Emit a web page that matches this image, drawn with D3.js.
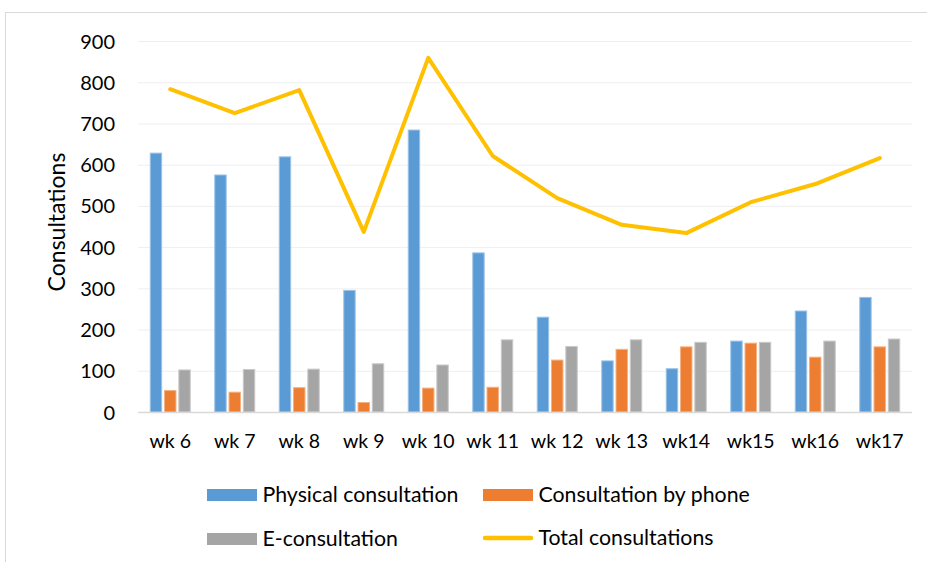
<!DOCTYPE html>
<html><head><meta charset="utf-8">
<script src="https://cdn.jsdelivr.net/npm/d3@7"></script>
<style>body{margin:0;background:#fff}svg{display:block}</style>
</head><body>
<svg id="c" width="927" height="562"></svg>
<script>
const weeks = ["wk 6","wk 7","wk 8","wk 9","wk 10","wk 11","wk 12","wk 13","wk14","wk15","wk16","wk17"];
const physical = [628,575,619,295,684,386,230,124,105,172,245,278];
const phone = [52,48,59,23,58,60,126,152,158,167,133,158];
const econs = [102,103,104,117,114,175,159,175,169,169,172,177];
const total = [783,725,781,437,859,621,519,454,434,509,553,616];
const yTicks = [0,100,200,300,400,500,600,700,800,900];
const seriesNames = ["Physical consultation","Consultation by phone","E-consultation","Total consultations"];
const colors = ["#5B9BD5","#ED7D31","#A5A5A5","#FFC000"];
const strokeCol = ["#9DC3E6","#F4B183","#C9C9C9"];

const svg = d3.select("#c");
const font = "Lato, 'Open Sans', sans-serif";
svg.append("rect").attr("x",5.5).attr("y",12.5).attr("width",960).attr("height",600)
  .attr("fill","#fff").attr("stroke","#d9d9d9");

const pL=138,pR=912,pT=41,pB=412;
const x = d3.scaleBand().domain(weeks).range([pL,pR]).paddingInner(0).paddingOuter(0);
const y = d3.scaleLinear().domain([0,900]).range([pB,pT]);
const sub = d3.scaleBand().domain([0,1,2]).range([0,40]).paddingInner(0.2);
const off = (x.bandwidth()-40)/2;

// gridlines
svg.append("g").selectAll("line").data(yTicks.filter(d=>d>0)).join("line")
  .attr("x1",pL).attr("x2",pR).attr("y1",d=>y(d)+0.5).attr("y2",d=>y(d)+0.5)
  .attr("stroke","#efefef").attr("stroke-width",1);

// y axis labels
const yAxis = d3.axisLeft(y).tickValues(yTicks).tickSize(0).tickPadding(0);
const ga = svg.append("g").attr("transform",`translate(115,0)`).call(yAxis);
ga.select(".domain").remove();
ga.selectAll("text").attr("font-family",font).attr("font-size",20).attr("fill","#000").attr("dy","0.35em");

const data = [physical,phone,econs];
data.forEach((arr,i)=>{
  svg.append("g").selectAll("rect").data(arr).join("rect")
    .attr("x",(d,j)=>x(weeks[j])+off+sub(i))
    .attr("width",sub.bandwidth())
    .attr("y",d=>y(d))
    .attr("height",d=>pB-y(d))
    .attr("fill",colors[i]).attr("stroke",strokeCol[i]).attr("stroke-width",1);
});

// baseline
svg.append("line").attr("x1",pL).attr("x2",pR).attr("y1",pB+0.5).attr("y2",pB+0.5)
  .attr("stroke","#d9d9d9").attr("stroke-width",1.5);

// x axis labels
const xAxis = d3.axisBottom(x).tickSize(0).tickPadding(0);
const gx = svg.append("g").attr("transform",`translate(0,${pB+29})`).call(xAxis);
gx.select(".domain").remove();
gx.selectAll("text").attr("font-family",font).attr("font-size",19.5).attr("fill","#000").attr("dy","0.35em");

// total line
const line = d3.line().x((d,j)=>x(weeks[j])+x.bandwidth()/2).y(d=>y(d));
svg.append("path").datum(total).attr("d",line).attr("fill","none")
  .attr("stroke",colors[3]).attr("stroke-width",4).attr("stroke-linejoin","round").attr("stroke-linecap","round");

// y title
svg.append("text").attr("transform","translate(57,222) rotate(-90)").attr("text-anchor","middle").attr("dy","0.35em")
  .attr("font-family",font).attr("font-size",23).attr("fill","#000").text("Consultations");

// legend
const leg = [
  {x:207,y:495,i:0},{x:483,y:495,i:1},{x:207,y:539,i:2},{x:483,y:538,i:3}
];
leg.forEach(l=>{
  if(l.i<3){
    svg.append("rect").attr("x",l.x).attr("y",l.y-6).attr("width",50).attr("height",12).attr("fill",colors[l.i]);
  } else {
    svg.append("line").attr("x1",l.x+2).attr("x2",l.x+48).attr("y1",l.y).attr("y2",l.y)
      .attr("stroke",colors[3]).attr("stroke-width",4.5).attr("stroke-linecap","round");
  }
  svg.append("text").attr("x",l.x+55.5).attr("y",l.y).attr("dy","0.35em")
    .attr("font-family",font).attr("font-size",21.3).attr("fill","#000").text(seriesNames[l.i]);
});
</script>
</body></html>
